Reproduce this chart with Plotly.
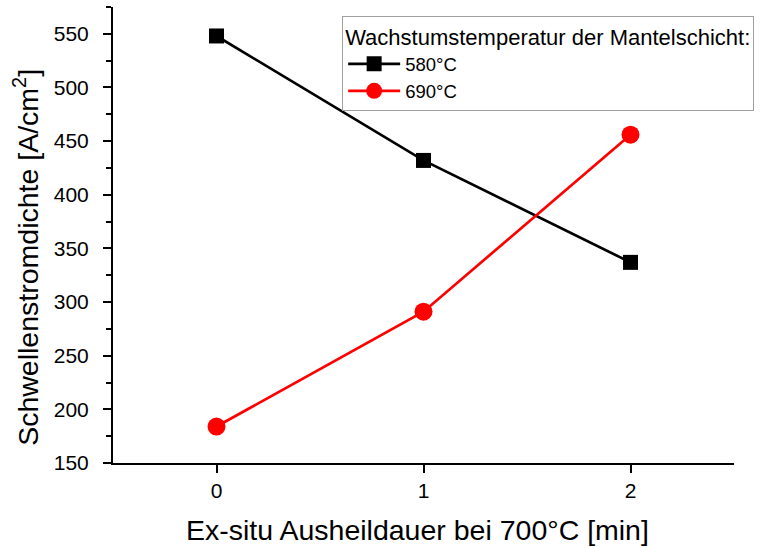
import plotly.graph_objects as go

# Annealing duration (min) and threshold current density (A/cm²)
duration = [0, 1, 2]
jth_580 = [548, 432, 337]
jth_690 = [184, 291, 456]
series_names = ["580°C", "690°C"]

FONT = "Liberation Sans, Arial, sans-serif"

fig = go.Figure()
fig.add_trace(go.Scatter(
    x=duration, y=jth_580, name=series_names[0], mode="lines+markers",
    line=dict(color="black", width=2.7),
    marker=dict(symbol="square", size=15, color="black"),
))
fig.add_trace(go.Scatter(
    x=duration, y=jth_690, name=series_names[1], mode="lines+markers",
    line=dict(color="#ff0000", width=2.7),
    marker=dict(symbol="circle", size=18, color="#ff0000"),
))

fig.update_layout(
    width=774, height=547,
    margin=dict(l=113, r=40, t=7, b=84),
    paper_bgcolor="white", plot_bgcolor="white",
    font=dict(family=FONT, color="black", size=21),
    showlegend=True,
    legend=dict(
        title=dict(text="Wachstumstemperatur der Mantelschicht:", font=dict(size=22)),
        x=0.369, y=0.981, xanchor="left", yanchor="top",
        bordercolor="#a0a0a0", borderwidth=1, bgcolor="white",
        font=dict(size=18.5), tracegroupgap=0, itemsizing="trace", itemwidth=52,
    ),
    xaxis=dict(
        range=[-0.5, 2.5], tickvals=[0, 1, 2], showgrid=False, zeroline=False,
        showline=True, linecolor="black", linewidth=2,
        ticks="outside", ticklen=8, tickwidth=2, tickcolor="black",
        tickfont=dict(size=21),
    ),
    yaxis=dict(
        range=[150, 575], tickvals=[150, 200, 250, 300, 350, 400, 450, 500, 550],
        showgrid=False, zeroline=False,
        showline=True, linecolor="black", linewidth=2,
        ticks="outside", ticklen=8, tickwidth=2, tickcolor="black",
        ticklabelstandoff=10,
        minor=dict(dtick=25, tick0=150, ticks="outside", ticklen=5, tickwidth=2, tickcolor="black"),
        tickfont=dict(size=21),
    ),
    annotations=[
        dict(text="Ex-situ Ausheildauer bei 700°C [min]", xref="paper", yref="paper",
             x=0.49, y=-0.148, xanchor="center", yanchor="middle", showarrow=False,
             font=dict(size=28.5)),
        dict(text="Schwellenstromdichte [A/cm<sup>2</sup>]", xref="paper", yref="paper",
             x=-0.14, y=0.45, xanchor="center", yanchor="middle", showarrow=False,
             textangle=-90, font=dict(size=28.5)),
    ],
)

fig.write_html("out.html")
